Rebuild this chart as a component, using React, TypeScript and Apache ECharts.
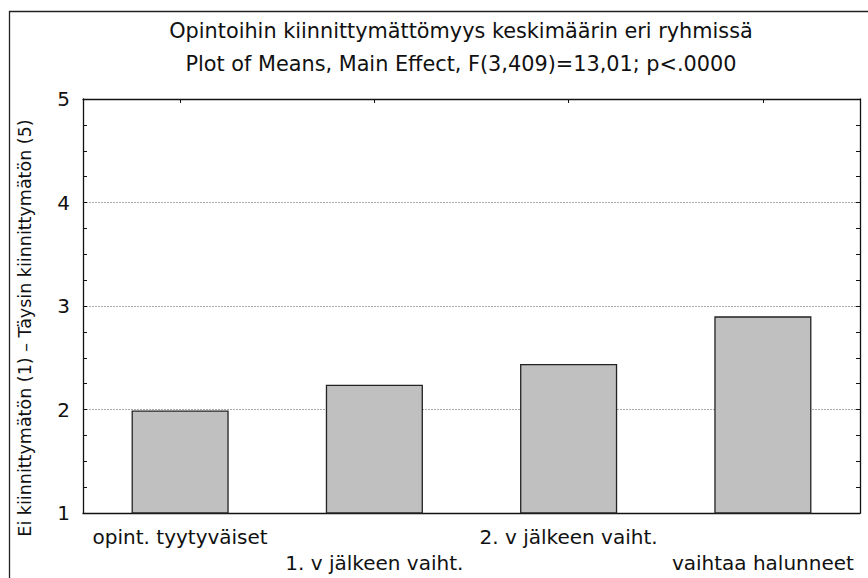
import React, { useEffect, useRef } from "react";
import * as echarts from "echarts";

const titleLines = [
  "Opintoihin kiinnittymättömyys keskimäärin eri ryhmissä",
  "Plot of Means, Main Effect, F(3,409)=13,01; p<.0000",
];
const categories = [
  "opint. tyytyväiset",
  "1. v jälkeen vaiht.",
  "2. v jälkeen vaiht.",
  "vaihtaa halunneet",
];
const means = [1.99, 2.24, 2.44, 2.9];
const yAxisName = "Ei kiinnittymätön (1) – Täysin kiinnittymätön (5)";
const yMin = 1;
const yMax = 5;
const yInterval = 1;

const FONT = "DejaVu Sans";

export default function App() {
  const ref = useRef<HTMLDivElement>(null);
  useEffect(() => {
    if (!ref.current) return;
    const chart = echarts.init(ref.current, undefined, { renderer: "svg" });
    const axisLineStyle = { color: "#111", width: 1.3 };
    chart.setOption({
      animation: false,
      backgroundColor: "#fff",
      title: {
        text: titleLines.join("\n"),
        left: 456,
        textAlign: "center",
        top: 9,
        textStyle: {
          fontFamily: FONT,
          fontSize: 20.8,
          fontWeight: "normal",
          color: "#111",
          lineHeight: 33,
        },
      },
      graphic: [
        {
          type: "rect",
          silent: true,
          shape: { x: 9.5, y: 11.5, width: 900, height: 700 },
          style: { fill: "none", stroke: "#222", lineWidth: 1.3 },
        },
      ],
      grid: { left: 83, right: 8, top: 99, bottom: 65 },
      xAxis: [
        {
          type: "category",
          data: categories,
          position: "bottom",
          axisLine: { lineStyle: axisLineStyle },
          axisTick: { show: true, inside: true, alignWithLabel: true, length: 4, lineStyle: { color: "#111" } },
          axisLabel: {
            interval: 0,
            margin: 11,
            fontFamily: FONT,
            fontSize: 20,
            color: "#111",
            lineHeight: 26,
            formatter: (v: string, i: number) => (i % 2 === 1 ? "\n" + v : v),
          },
          splitLine: { show: false },
        },
        {
          type: "category",
          data: categories,
          position: "top",
          axisLine: { lineStyle: axisLineStyle },
          axisTick: { show: true, inside: true, alignWithLabel: true, length: 4, lineStyle: { color: "#111" } },
          axisLabel: { show: false },
          splitLine: { show: false },
        },
      ],
      yAxis: [
        {
          type: "value",
          min: yMin,
          max: yMax,
          interval: yInterval,
          position: "left",
          name: yAxisName,
          nameLocation: "middle",
          nameGap: 49,
          nameTextStyle: {
            fontFamily: FONT,
            fontSize: 17.5,
            color: "#111",
            padding: [0, 44, 0, 0],
          },
          axisLine: { show: true, lineStyle: axisLineStyle },
          axisTick: { show: true, inside: true, length: 4, lineStyle: { color: "#111" } },
          minorTick: { show: true, splitNumber: 4, length: 4, lineStyle: { color: "#111" } },
          axisLabel: { margin: 13, fontFamily: FONT, fontSize: 20, color: "#111" },
          splitLine: { show: true, lineStyle: { type: [2, 1], color: "#aaa", width: 1 } },
        },
        {
          type: "value",
          min: yMin,
          max: yMax,
          interval: yInterval,
          position: "right",
          axisLine: { show: true, lineStyle: axisLineStyle },
          axisTick: { show: true, inside: true, length: 4, lineStyle: { color: "#111" } },
          minorTick: { show: true, splitNumber: 4, length: 4, lineStyle: { color: "#111" } },
          axisLabel: { show: false },
          splitLine: { show: false },
        },
      ],
      series: [
        {
          type: "bar",
          data: means,
          xAxisIndex: 0,
          yAxisIndex: 0,
          barWidth: "50%",
          itemStyle: { color: "#c0c0c0", borderColor: "#222", borderWidth: 1.3 },
        },
      ],
    });
    return () => chart.dispose();
  }, []);
  return (
    <div
      ref={ref}
      style={{ position: "fixed", left: 0, top: 0, width: 868, height: 578 }}
    />
  );
}
